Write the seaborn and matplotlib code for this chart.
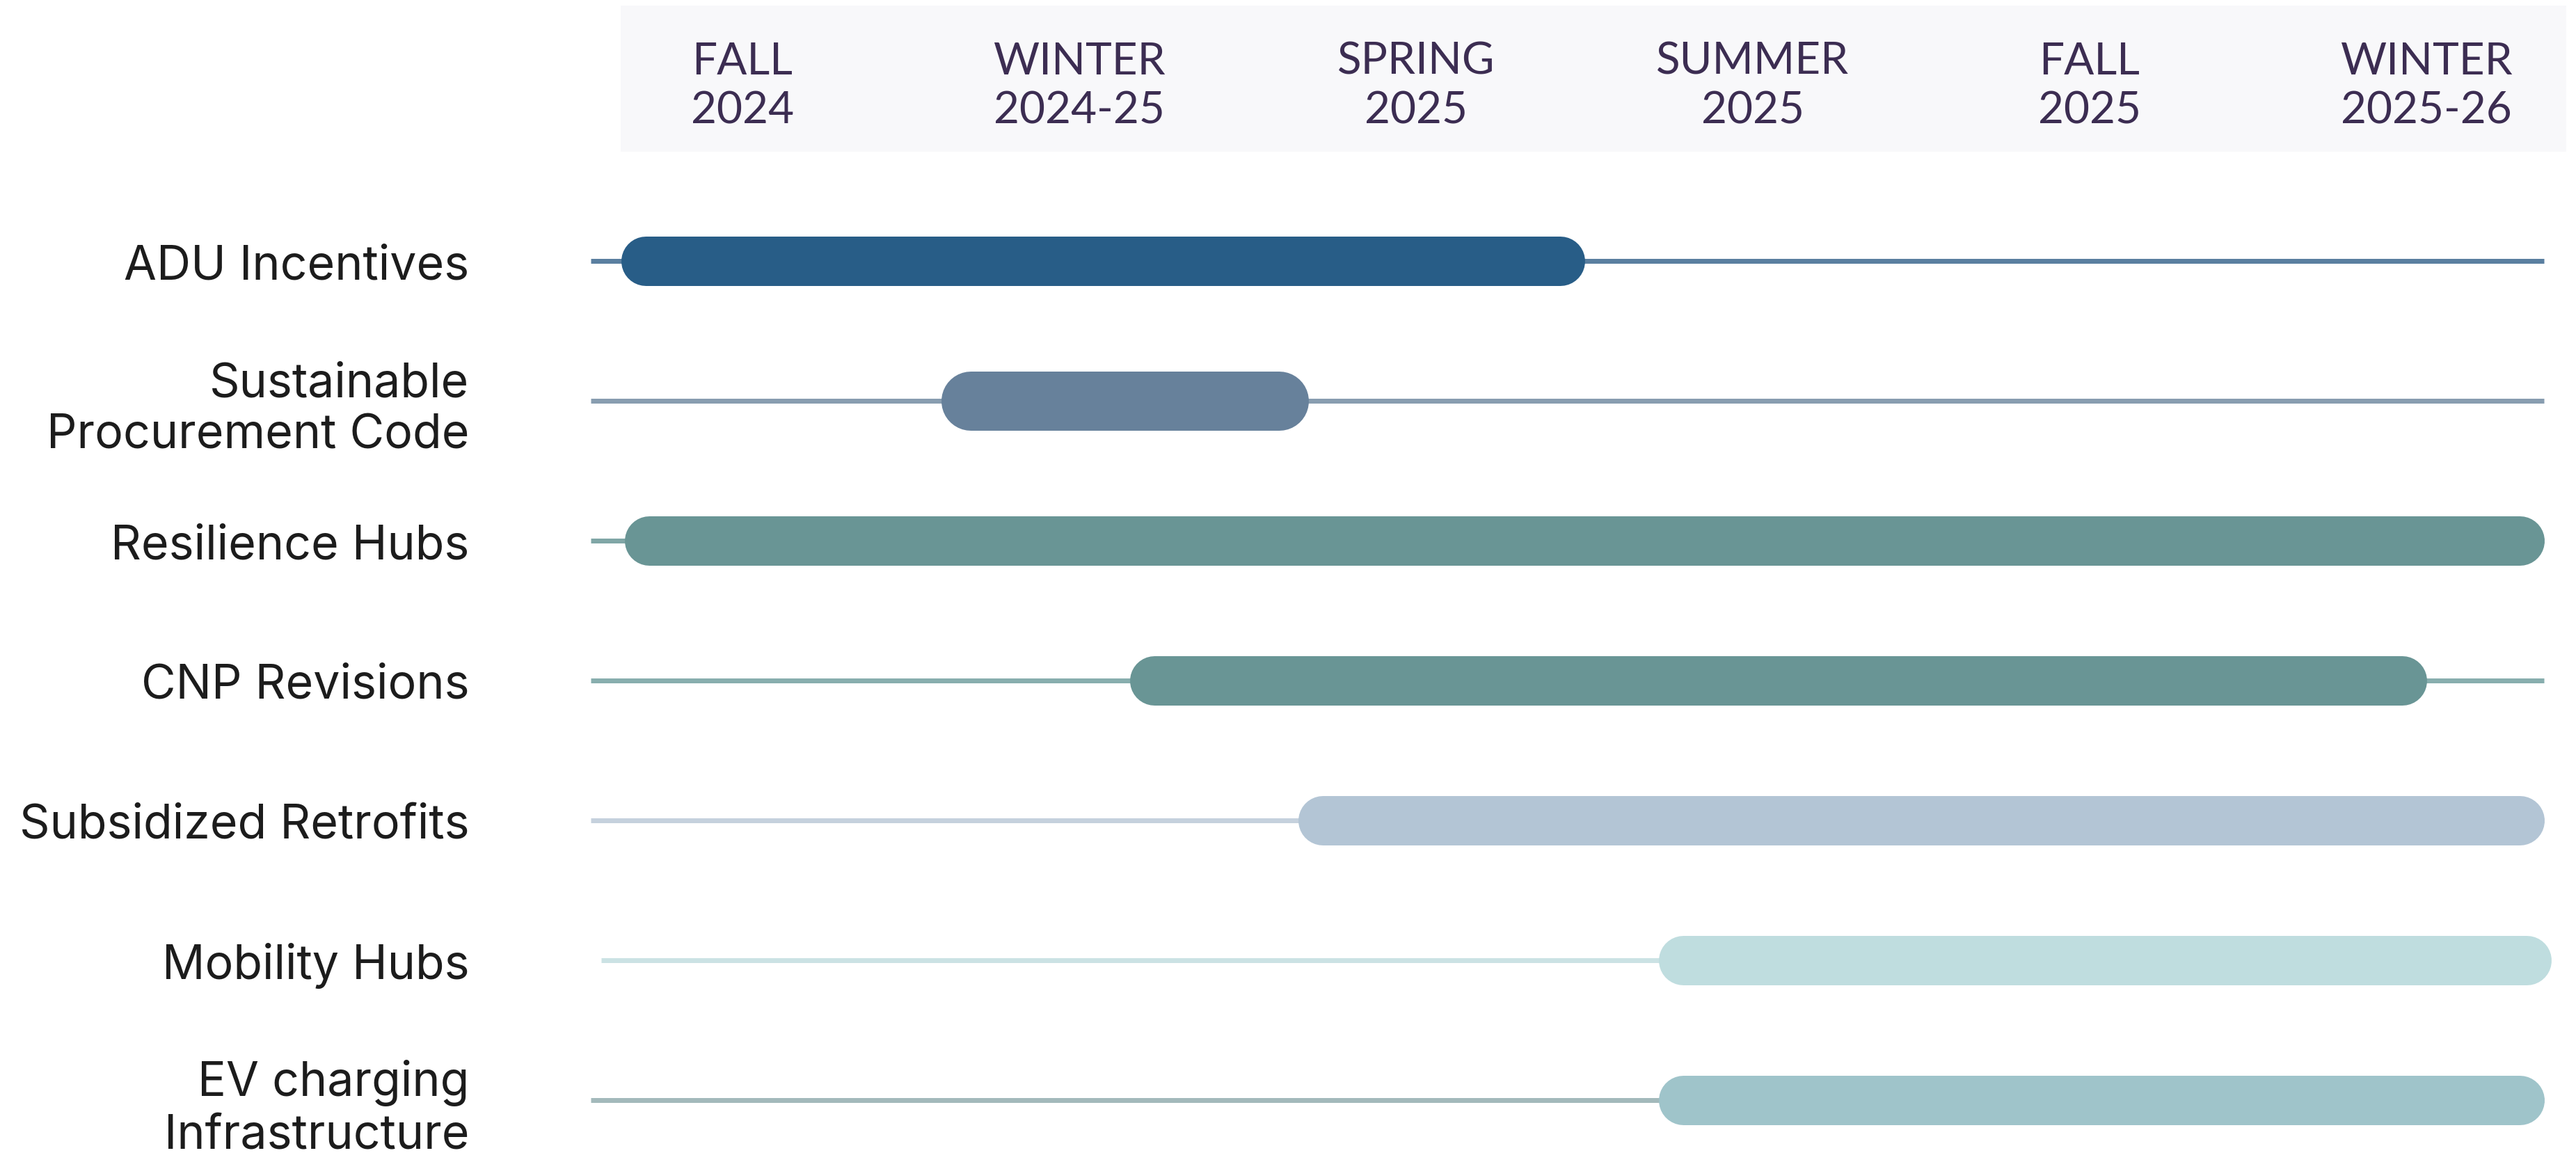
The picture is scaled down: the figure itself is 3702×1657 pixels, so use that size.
import matplotlib.pyplot as plt
import pandas as pd
import seaborn as sns
from matplotlib.patches import Rectangle

# header seasons (x = 0 is Fall 2024, one unit per season)
seasons = ["FALL", "WINTER", "SPRING", "SUMMER", "FALL", "WINTER"]
season_years = ["2024", "2024-25", "2025", "2025", "2025", "2025-26"]

tasks = [
    "ADU Incentives",
    "Sustainable\nProcurement Code",
    "Resilience Hubs",
    "CNP Revisions",
    "Subsidized Retrofits",
    "Mobility Hubs",
    "EV charging\nInfrastructure",
]

# active period of each task, in season units
bar_start = [-0.36, 0.59, -0.35, 1.15, 1.65, 2.72, 2.72]
bar_end = [2.50, 1.68, 5.35, 5.00, 5.35, 5.37, 5.35]

# thin background track
track_start = [-0.45, -0.45, -0.45, -0.45, -0.45, -0.42, -0.45]
track_end = [5.35, 5.35, 5.35, 5.35, 5.35, 5.35, 5.35]

bar_colors = ["#285d87", "#67819b", "#699595", "#699595", "#b3c5d5", "#bfdddf", "#9fc4ca"]
track_colors = ["#5a7fa0", "#889db0", "#80a6a6", "#88aeae", "#c5d1dd", "#cbe2e4", "#a3b9bb"]
bar_height_px = [71, 85, 71, 71, 71, 71, 71]

DPI = 200
PX_PER_UNIT = 484.0

sns.set_theme(style="white")
plt.rcParams["font.family"] = ["Inter", "Lato", "DejaVu Sans"]

fig = plt.figure(figsize=(3702 / DPI, 1658 / DPI), dpi=DPI)
fig.patch.set_facecolor("white")
ax = fig.add_axes([777 / 3702, 0, 1 - 777 / 3702, 1])
ax.set_facecolor("white")

for i, task in enumerate(tasks):
    track = pd.DataFrame({"x": [track_start[i], track_end[i]], "y": [i, i]})
    sns.lineplot(
        data=track, x="x", y="y", color=track_colors[i],
        linewidth=7 * 72 / DPI, solid_capstyle="butt", ax=ax, zorder=1,
    )
    # round caps stick out by half the line width, pull the ends in
    r = bar_height_px[i] / 2 / PX_PER_UNIT
    bar = pd.DataFrame({"x": [bar_start[i] + r, bar_end[i] - r], "y": [i, i]})
    sns.lineplot(
        data=bar, x="x", y="y", color=bar_colors[i],
        linewidth=bar_height_px[i] * 72 / DPI, solid_capstyle="round", ax=ax, zorder=2,
    )

ax.set_xlim((777 - 1067) / PX_PER_UNIT, (3702 - 1067) / PX_PER_UNIT)
ax.set_ylim(6.38, -1.873)

# header band with season names
ax.add_patch(Rectangle((-0.362, -1.829), 5.777, 1.046, facecolor="#f8f8fa",
                       edgecolor="none", zorder=0))
head_font = ["Lato", "DejaVu Sans"]
for i, (s, yr) in enumerate(zip(seasons, season_years)):
    ax.text(i, -1.43, s, ha="center", va="center", fontsize=23,
            color="#3c2d52", family=head_font)
    ax.text(i, -1.08, yr, ha="center", va="center", fontsize=23,
            color="#3c2d52", family=head_font)

ax.set_yticks(range(len(tasks)))
ax.set_yticklabels(tasks, fontsize=24.5, color="#1c1c1c")
ax.set_xticks([])
ax.tick_params(axis="y", length=0, pad=37)
ax.set_xlabel("")
ax.set_ylabel("")
for sp in ax.spines.values():
    sp.set_visible(False)

fig.savefig("out.png", dpi=DPI)
plt.close(fig)
